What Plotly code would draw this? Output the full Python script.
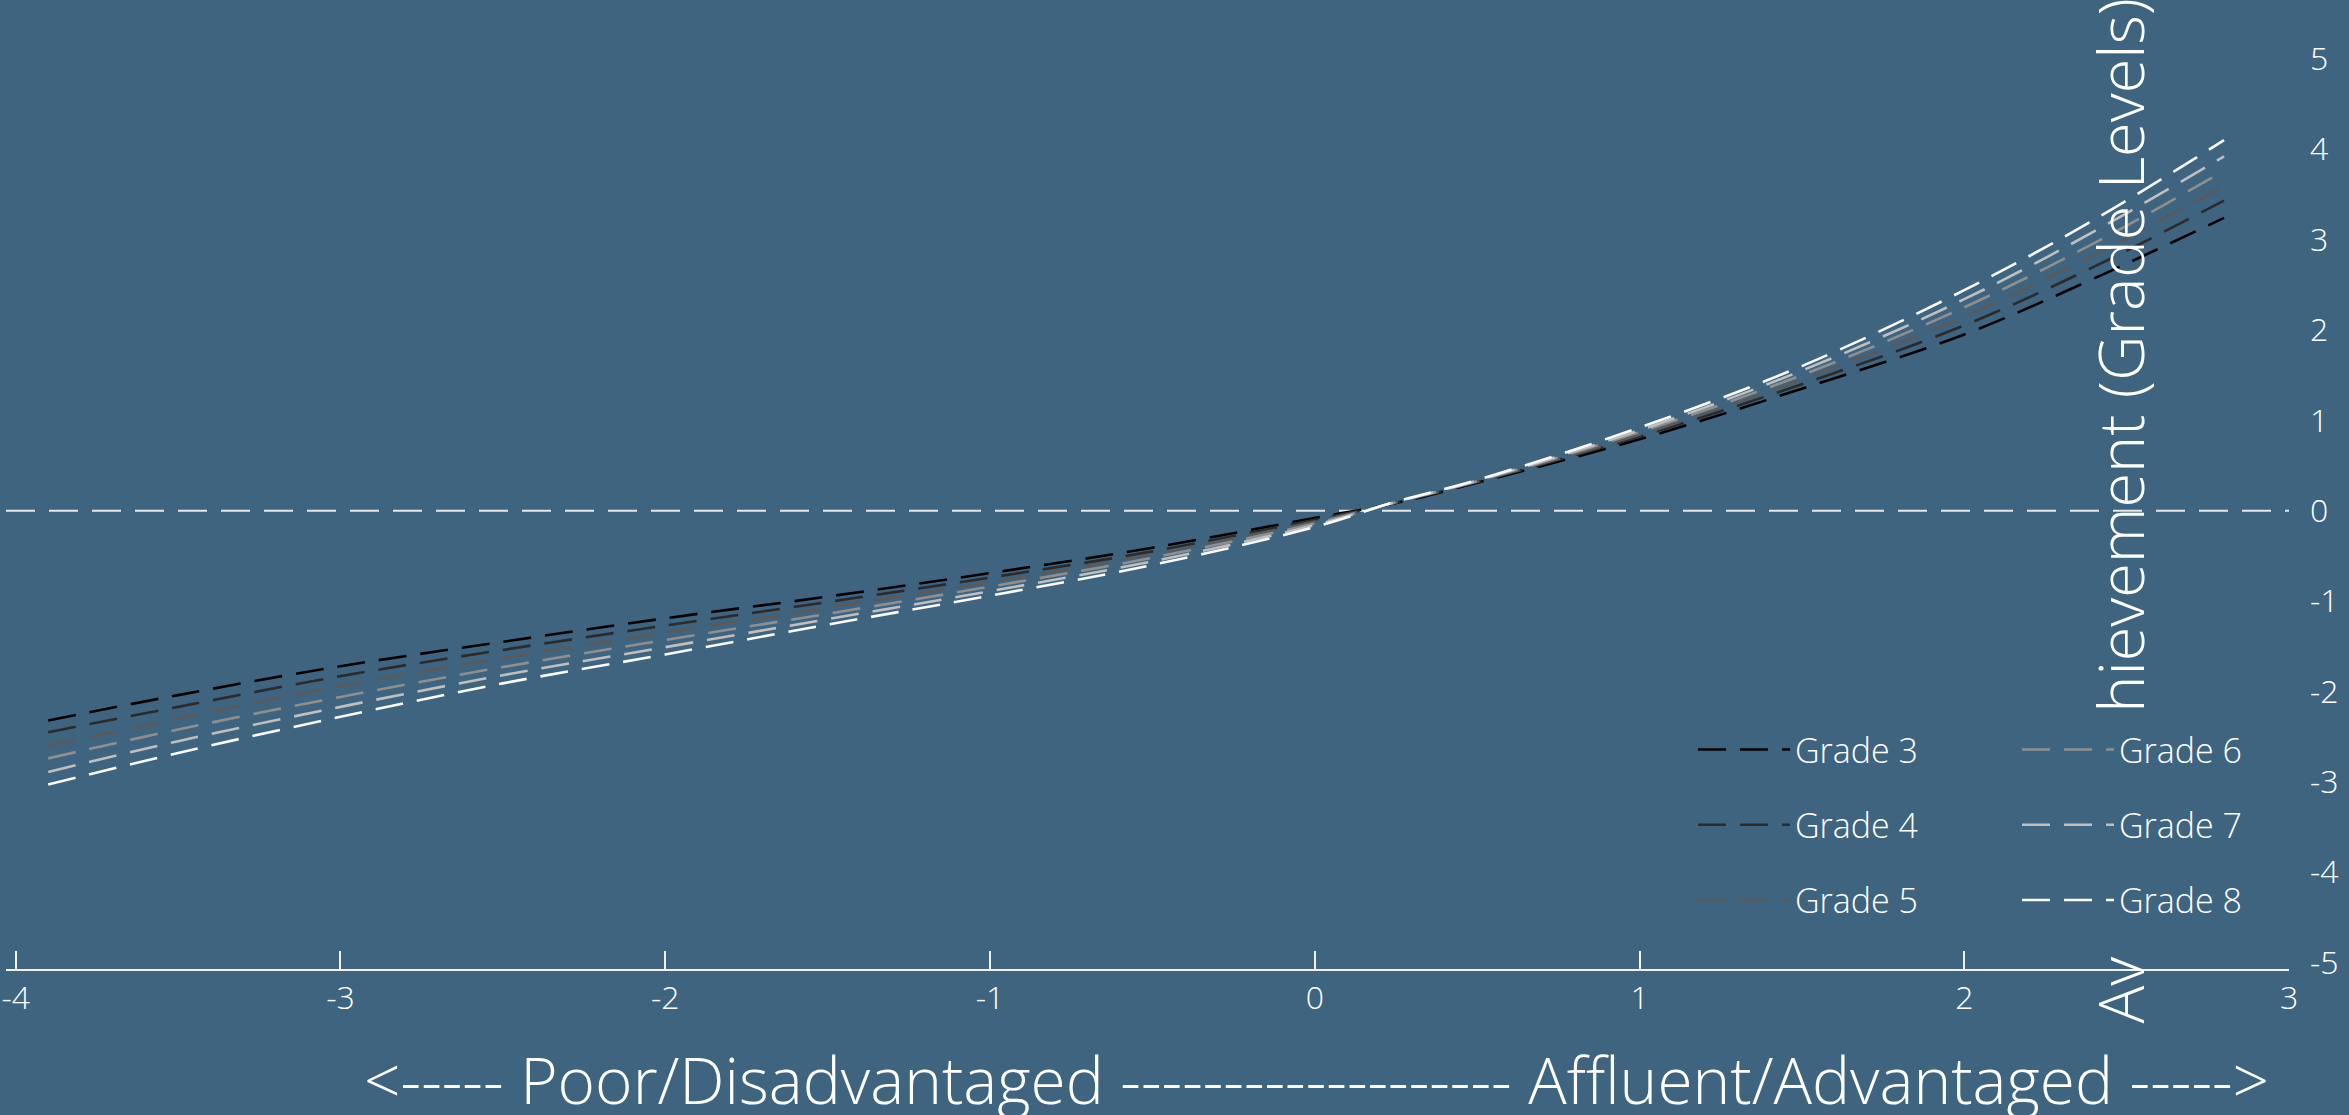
import plotly.graph_objects as go

# ---- data ----
ses = [-3.9, -3.5, -3.0, -2.5, -2.0, -1.5, -1.0, -0.5, 0.0, 0.25, 0.5, 1.0, 1.5, 2.0, 2.4, 2.8]
grade3 = [-2.32, -2.04, -1.72, -1.45, -1.19, -0.95, -0.69, -0.41, -0.08, 0.085, 0.31, 0.79, 1.35, 1.95, 2.57, 3.24]
grade4 = [-2.45, -2.17, -1.83, -1.54, -1.27, -1.01, -0.74, -0.45, -0.10, 0.088, 0.316, 0.82, 1.40, 2.05, 2.70, 3.43]
grade5 = [-2.60, -2.30, -1.94, -1.63, -1.35, -1.07, -0.79, -0.48, -0.12, 0.091, 0.322, 0.84, 1.45, 2.15, 2.83, 3.59]
grade6 = [-2.74, -2.42, -2.06, -1.73, -1.43, -1.14, -0.84, -0.52, -0.14, 0.094, 0.328, 0.87, 1.50, 2.25, 2.96, 3.76]
grade7 = [-2.89, -2.55, -2.17, -1.82, -1.51, -1.20, -0.89, -0.56, -0.16, 0.097, 0.334, 0.89, 1.55, 2.34, 3.09, 3.92]
grade8 = [-3.03, -2.68, -2.28, -1.91, -1.59, -1.26, -0.94, -0.60, -0.18, 0.10, 0.34, 0.92, 1.60, 2.44, 3.22, 4.10]

series_names = ["Grade 3", "Grade 4", "Grade 5", "Grade 6", "Grade 7", "Grade 8"]
series_values = [grade3, grade4, grade5, grade6, grade7, grade8]
series_colors = ["#000000", "#2b2b2b", "#5a5a5a", "#8f8f8f", "#bfbfbf", "#fafafa"]

x_ticks = [-4, -3, -2, -1, 0, 1, 2, 3]
x_ticktext = ["-4", "-3", "-2", "-1", "0", "1", "2", "3"]
y_ticks = [-5, -4, -3, -2, -1, 0, 1, 2, 3, 4, 5]
y_ticktext = ["-5", "-4", "-3", "-2", "-1", "0", "1", "2", "3", "4", "5"]

x_title = "&lt;----- Poor/Disadvantaged ------------------- Affluent/Advantaged -----&gt;"
y_title = ('Av<span style="color:rgba(0,0,0,0)">erage Ac</span>'
           'hievement (Grade Levels)')

BG = "#3e6480"
FG = "#ffffff"
FONT = "Open Sans"

fig = go.Figure()
for i, (name, vals, col) in enumerate(zip(series_names, series_values, series_colors)):
    fig.add_trace(go.Scatter(
        x=ses, y=vals, name=name, mode="lines",
        line=dict(color=col, width=2.6, dash="28px,14px", shape="spline", smoothing=1.0),
        legend="legend" if i < 3 else "legend2",
        legendgroup=name,
        hoverinfo="x+y+name",
    ))

fig.add_shape(type="line", xref="paper", x0=0, x1=1, yref="y", y0=0, y1=0,
              line=dict(color="#e6e6e6", width=2, dash="29px,14px"), layer="below")

leg_common = dict(
    xanchor="left", yanchor="top", bgcolor="rgba(0,0,0,0)",
    font=dict(family=FONT, size=34, color=FG, weight=300),
    itemwidth=92, tracegroupgap=28,
)

fig.update_layout(
    width=2349, height=1115,
    paper_bgcolor=BG, plot_bgcolor=BG,
    margin=dict(l=6, r=60, t=0, b=146, autoexpand=False),
    font=dict(family=FONT, color=FG, weight=300),
    legend=dict(x=(1693 - 6) / 2283, y=0.256, **leg_common),
    legend2=dict(x=(2017 - 6) / 2283, y=0.256, **leg_common),
    xaxis=dict(
        range=[-4.03, 3.0], tickvals=x_ticks, ticktext=x_ticktext,
        showgrid=False, zeroline=False,
        showline=True, linecolor="#f2f2f2", linewidth=2,
        ticks="inside", ticklen=18, tickwidth=1.5, tickcolor="#f2f2f2",
        tickfont=dict(family=FONT, size=32, color=FG, weight=300),
        ticklabeloverflow="allow", automargin=False,
    ),
    yaxis=dict(
        range=[-5.07, 5.65], tickvals=y_ticks, ticktext=y_ticktext,
        side="right", showgrid=False,
        zeroline=False, showline=False, ticks="", ticklabelstandoff=20,
        tickfont=dict(family=FONT, size=32, color=FG, weight=300),
        ticklabeloverflow="allow", automargin=False,
    ),
    annotations=[
        dict(text=x_title, xref="paper", yref="paper", x=(1316 - 6) / 2283,
             y=(969 - 1079) / 969, xanchor="center", yanchor="middle",
             showarrow=False, font=dict(family=FONT, size=64, color=FG, weight=300)),
        dict(text=y_title, xref="x", yref="paper", x=2.475, y=(969 - 1026) / 969,
             xanchor="center", yanchor="bottom", textangle=-90,
             showarrow=False, font=dict(family=FONT, size=63, color=FG, weight=300)),
    ],
    showlegend=True,
)

page_fix = ("document.body.style.margin='0';document.body.style.padding='0';"
            "document.body.style.overflow='hidden';"
            "document.body.style.background='" + BG + "';")

fig.write_html("out.html", post_script=page_fix, config={"displayModeBar": False})
